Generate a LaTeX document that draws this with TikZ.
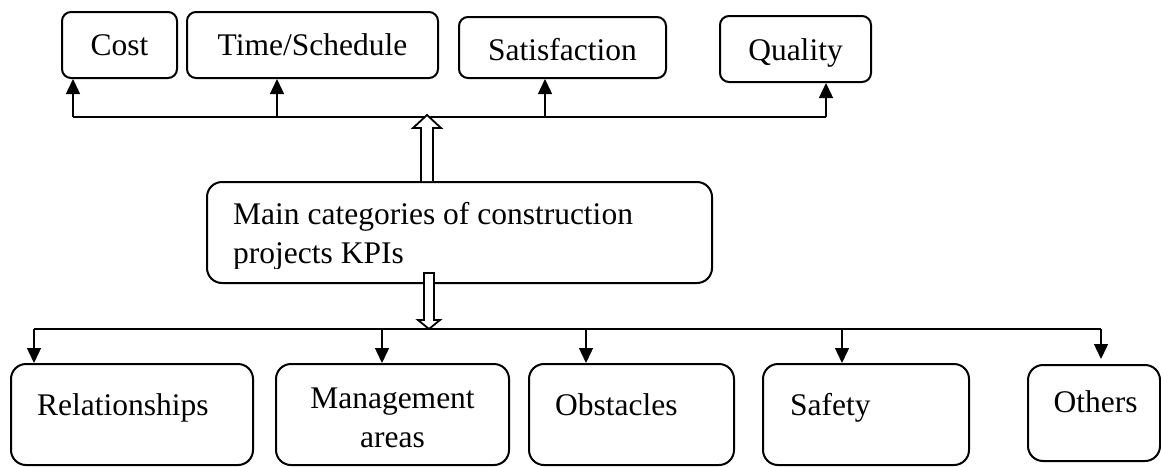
\documentclass[tikz,border=0pt]{standalone}
\usepackage{fontspec}
\setmainfont{Liberation Serif}
\usetikzlibrary{arrows.meta}
\tikzset{
  kpibox/.style={draw, line width=2pt, rounded corners=9pt, inner sep=0pt},
  catbox/.style={draw, line width=2pt, rounded corners=15pt, inner sep=0pt},
  link/.style={line width=1.4pt, -{Triangle[length=15pt,width=14pt]}},
  bus/.style={line width=1.4pt},
  hollow/.style={draw, fill=white, line width=1.8pt, line join=miter},
  txt/.style={font=\fontsize{31.5}{39}\selectfont, inner sep=0pt},
}
\begin{document}
\begin{tikzpicture}[x=1pt, y=-1pt]
  \useasboundingbox (0,0) rectangle (1161,466);

  % top row of KPI boxes
  \node[kpibox, minimum width=115pt, minimum height=66pt] (cost) at (119.5,45) {};
  \node[kpibox, minimum width=251pt, minimum height=66pt] (time) at (312.5,45) {};
  \node[kpibox, minimum width=207pt, minimum height=61pt] (sat)  at (562.5,47.5) {};
  \node[kpibox, minimum width=151pt, minimum height=66pt] (qual) at (795.5,49) {};
  \node[txt, anchor=base] (costT) at (119.5,55) {Cost};
  \node[txt, anchor=base] (timeT) at (312.5,55) {Time/Schedule};
  \node[txt, anchor=base] (satT)  at (562.5,60) {Satisfaction};
  \node[txt, anchor=base] (qualT) at (795.5,60) {Quality};

  % central box; its second line is cut off just below the baseline
  \node[catbox, minimum width=505pt, minimum height=101pt] (main) at (459.5,232.5) {};
  \begin{scope}
    \clip (207,190) rectangle (712,268);
    \node[txt, anchor=base west, align=left] (mainT) at (233,263)
      {Main categories of construction\\projects KPIs};
  \end{scope}

  % bottom row of category boxes
  \node[catbox, minimum width=242pt, minimum height=101pt] (rel)  at (132,414.5) {};
  \node[catbox, minimum width=233pt, minimum height=101pt] (mgmt) at (392.5,414.5) {};
  \node[catbox, minimum width=205pt, minimum height=101pt] (obs)  at (631.5,414.5) {};
  \node[catbox, minimum width=206pt, minimum height=101pt] (safe) at (866,414.5) {};
  \node[catbox, minimum width=132pt, minimum height=96pt]  (oth)  at (1094,413) {};
  \node[txt, anchor=base west] (relT) at (37,415) {Relationships};
  \node[txt, anchor=base, align=center] (mgmtT) at (392.5,447) {Management\\areas};
  \node[txt, anchor=base west] (obsT) at (555,415) {Obstacles};
  \node[txt, anchor=base west] (safeT) at (790,415) {Safety};
  \node[txt, anchor=base] (othT) at (1095.5,412) {Others};

  % upper distribution line
  \coordinate (t1) at (73,117);
  \coordinate (t2) at (277,117);
  \coordinate (t3) at (545,117);
  \coordinate (t4) at (826,117);
  \draw[bus] (t1) -- (t4);
  \draw[link] (t1) -- (t1 |- cost.south);
  \draw[link] (t2) -- (t2 |- time.south);
  \draw[link] (t3) -- (t3 |- sat.south);
  \draw[link] (t4) -- (t4 |- qual.south);

  % lower distribution line
  \coordinate (d1) at (34,329);
  \coordinate (d2) at (382,329);
  \coordinate (d3) at (586,329);
  \coordinate (d4) at (842,329);
  \coordinate (d5) at (1101,329);
  \draw[bus] (d1) -- (d5);
  \draw[link] (d1) -- (d1 |- rel.north);
  \draw[link] (d2) -- (d2 |- mgmt.north);
  \draw[link] (d3) -- (d3 |- obs.north);
  \draw[link] (d4) -- (d4 |- safe.north);
  \draw[link] (d5) -- ([yshift=5pt]d5 |- oth.north);

  % hollow block arrows out of the central box
  \coordinate (upbase) at (427,181);
  \draw[hollow] (upbase) ++(-6,0) -- ++(0,-53) -- ++(-8,0) -- ++(14,-13)
    -- ++(14,13) -- ++(-8,0) -- ++(0,53);
  \coordinate (dnbase) at (429,273);
  \draw[hollow] (dnbase) ++(-5,0) -- ++(0,47) -- ++(-6,0) -- ++(11,9)
    -- ++(11,-9) -- ++(-6,0) -- ++(0,-47) -- cycle;
\end{tikzpicture}
\end{document}
